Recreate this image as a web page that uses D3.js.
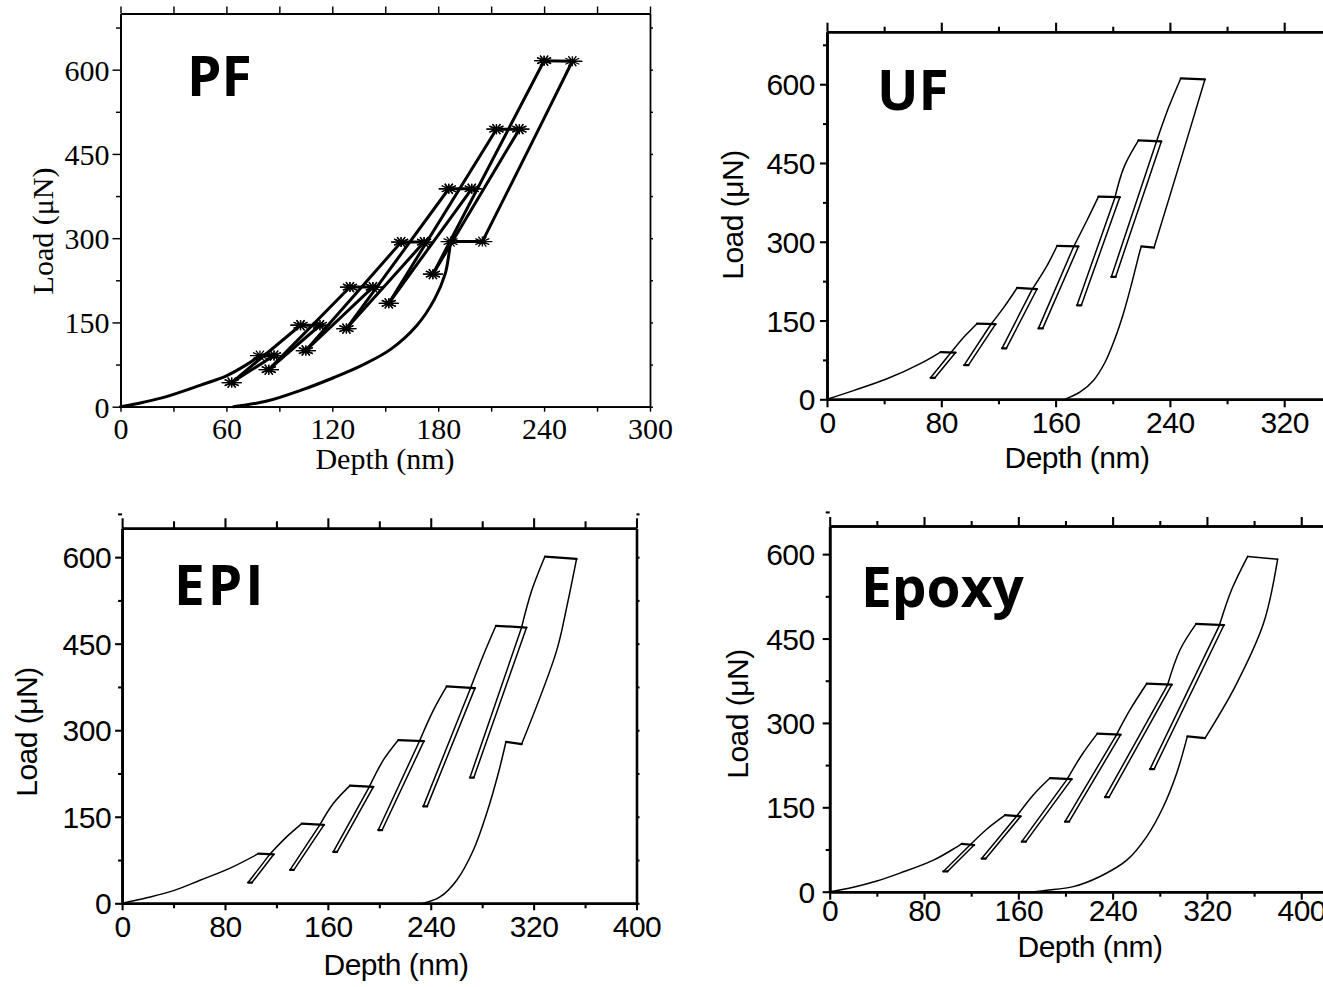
<!DOCTYPE html>
<html>
<head>
<meta charset="utf-8">
<script src="https://cdn.jsdelivr.net/npm/d3@7"></script>
<style>
  body { margin: 0; background: #fff; }
  svg { display: block; background: #fff; }
  .curve { fill: none; stroke: #000; stroke-linejoin: round; stroke-linecap: round; }
  .star { fill: none; stroke: #000; stroke-width: 1.3; }
</style>
</head>
<body>
<svg id="chart" width="1323" height="987"></svg>
<script>
// ---- values: depth (nm), load (uN) ----
var panelNames = ["PF", "UF", "EPI", "Epoxy"];

var loadTicks = [0, 150, 300, 450, 600];
var loadMinor = [75, 225, 375, 525, 675];
var pfDepthTicks = [0, 60, 120, 180, 240, 300];
var pfDepthMinor = [30, 90, 150, 210, 270];
var depthTicks = [0, 80, 160, 240, 320, 400];
var depthMinor = [40, 120, 200, 280, 360, 440];

// every stroke of a curve: loading, holds, partial unloads, reloads, final unload
var pfStrokes = [
  [[0, 0], [13, 8], [26, 18], [45, 38], [60, 55], [71, 74], [79, 91]],
  [[79, 91], [87, 91]],
  [[87, 91], [63, 43]],
  [[63, 43], [102, 145]],
  [[102, 145], [113, 145]],
  [[113, 145], [84, 66]],
  [[84, 66], [130, 213]],
  [[130, 213], [143, 213]],
  [[143, 213], [105, 100]],
  [[105, 100], [159, 293]],
  [[159, 293], [172, 293]],
  [[172, 293], [128, 139]],
  [[128, 139], [186, 388]],
  [[186, 388], [199, 388]],
  [[199, 388], [152, 184]],
  [[152, 184], [213, 494]],
  [[213, 494], [226, 494]],
  [[226, 494], [177, 236]],
  [[177, 236], [240, 616]],
  [[240, 616], [256, 615]],
  [[256, 615], [232, 463], [205, 294]],
  [[205, 294], [187, 294]],
  [[187, 294], [186, 270], [184, 237], [178, 192], [168, 145], [153, 102], [137, 74], [121, 52], [102, 29], [83, 10], [64, 0]]
];

var ufStrokes = [
  [[0, 0], [19, 17], [42, 39], [66, 69], [79.5, 90]],
  [[79.5, 90], [90, 89]],
  [[90, 89], [75.5, 41]],
  [[75.5, 41], [72.5, 41]],
  [[72.5, 41], [86.5, 88]],
  [[86.5, 88], [96, 119], [105, 144]],
  [[105, 144], [118, 143]],
  [[118, 143], [99, 65]],
  [[99, 65], [96, 65]],
  [[96, 65], [114.5, 142]],
  [[114.5, 142], [124, 176], [133, 212]],
  [[133, 212], [147, 210]],
  [[147, 210], [125.5, 97]],
  [[125.5, 97], [122.5, 97]],
  [[122.5, 97], [143.5, 209]],
  [[143.5, 209], [153.5, 252], [161, 292]],
  [[161, 292], [176, 291]],
  [[176, 291], [151, 135]],
  [[151, 135], [148, 135]],
  [[148, 135], [172.5, 290]],
  [[172.5, 290], [182, 341], [190, 386]],
  [[190, 386], [205, 385]],
  [[205, 385], [178, 179]],
  [[178, 179], [175, 179]],
  [[175, 179], [201.5, 384]],
  [[201.5, 384], [208, 443], [218, 493]],
  [[218, 493], [234, 491]],
  [[234, 491], [202, 233]],
  [[202, 233], [199, 233]],
  [[199, 233], [230.5, 490]],
  [[230.5, 490], [239, 555], [247.6, 611]],
  [[247.6, 611], [264.5, 609]],
  [[264.5, 609], [247.4, 454], [228.9, 289]],
  [[228.9, 289], [220, 291]],
  [[220, 291], [218.6, 278], [213.3, 221], [207.4, 163], [201.6, 116], [194.7, 71], [186.5, 36], [177.2, 14], [166.7, 0]]
];

var epiStrokes = [
  [[0, 0], [20, 10], [40, 22], [60.6, 40], [84, 61], [106, 86]],
  [[106, 86], [118, 85]],
  [[118, 85], [101, 36]],
  [[101, 36], [98, 36]],
  [[98, 36], [114.5, 84]],
  [[114.5, 84], [126.7, 112.5], [139.7, 138]],
  [[139.7, 138], [157, 136]],
  [[157, 136], [133.6, 58]],
  [[133.6, 58], [130.6, 58]],
  [[130.6, 58], [153.5, 135]],
  [[153.5, 135], [164.2, 173], [177.2, 204]],
  [[177.2, 204], [195.4, 202]],
  [[195.4, 202], [167.2, 89]],
  [[167.2, 89], [164.2, 89]],
  [[164.2, 89], [192, 201]],
  [[192, 201], [203.1, 248], [214.8, 283]],
  [[214.8, 283], [234.7, 281]],
  [[234.7, 281], [202.2, 127]],
  [[202.2, 127], [199.2, 127]],
  [[199.2, 127], [231, 280]],
  [[231, 280], [242, 334.5], [252.4, 376]],
  [[252.4, 376], [274.4, 373]],
  [[274.4, 373], [237.2, 168]],
  [[237.2, 168], [234.2, 168]],
  [[234.2, 168], [270.6, 371]],
  [[270.6, 371], [280.9, 430], [290.7, 481]],
  [[290.7, 481], [314.5, 478]],
  [[314.5, 478], [273.5, 218]],
  [[273.5, 218], [270.5, 218]],
  [[270.5, 218], [310.5, 477]],
  [[310.5, 477], [318.5, 542], [328.8, 601]],
  [[328.8, 601], [353.4, 597]],
  [[353.4, 597], [345.7, 513], [337.9, 438], [310.7, 276]],
  [[310.7, 276], [298.5, 280]],
  [[298.5, 280], [292.5, 225], [283.5, 156], [273.1, 92], [260.2, 40], [247.2, 11], [234.2, 0]]
];

var epoxyStrokes = [
  [[0, 0], [20, 8], [40, 19], [59.6, 33], [88, 56], [112, 85]],
  [[112, 85], [122.5, 83]],
  [[122.5, 83], [99.9, 36]],
  [[99.9, 36], [96.4, 36]],
  [[96.4, 36], [119, 83]],
  [[119, 83], [133.2, 111], [148.7, 136]],
  [[148.7, 136], [162, 134]],
  [[162, 134], [132.4, 59]],
  [[132.4, 59], [128.9, 59]],
  [[128.9, 59], [158.5, 134]],
  [[158.5, 134], [172.7, 172], [186.9, 202]],
  [[186.9, 202], [205.3, 200]],
  [[205.3, 200], [166.4, 89]],
  [[166.4, 89], [162.9, 89]],
  [[162.9, 89], [201.5, 200]],
  [[201.5, 200], [213.8, 243], [227, 281]],
  [[227, 281], [246.8, 279]],
  [[246.8, 279], [203.1, 124.5]],
  [[203.1, 124.5], [199.6, 124.5]],
  [[199.6, 124.5], [243, 278]],
  [[243, 278], [254.7, 323], [269, 370]],
  [[269, 370], [290.2, 368]],
  [[290.2, 368], [237, 168]],
  [[237, 168], [233.5, 168]],
  [[233.5, 168], [286.5, 367]],
  [[286.5, 367], [297.2, 430], [310.8, 476]],
  [[310.8, 476], [334.5, 474]],
  [[334.5, 474], [275.2, 218]],
  [[275.2, 218], [271.7, 218]],
  [[271.7, 218], [330.5, 473]],
  [[330.5, 473], [341, 537], [354.6, 596]],
  [[354.6, 596], [380, 591]],
  [[380, 591], [368, 477], [344, 365], [318.4, 273]],
  [[318.4, 273], [303.4, 276]],
  [[303.4, 276], [294.4, 211], [283, 151], [268.9, 98], [252, 56], [229.3, 27], [206.7, 9], [184.1, 2.5], [174, 0]]
];

/** One load-depth panel of the figure. */
class LoadDepthPanel {
  /**
   * @param cfg layout of the panel (pixel box, domains, fonts, label spots)
   */
  constructor(cfg) {
    this.cfg = cfg;
    this.x = d3.scaleLinear().domain(cfg.xDomain).range(cfg.xRange);
    this.y = d3.scaleLinear().domain(cfg.yDomain).range(cfg.yRange);
  }

  drawAxes(svg) {
    var c = this.cfg;
    var self = this;
    var g = svg.append("g").attr("class", "axes");

    var style = function(sel) {
      sel.select(".domain").attr("stroke-width", c.axisWidth);
      sel.selectAll(".tick line").attr("stroke-width", c.axisWidth * 0.8);
      sel.selectAll(".tick text")
        .attr("font-family", c.font)
        .attr("font-size", c.fontSize)
        .attr("letter-spacing", c.letterSpacing)
        .attr("fill", "#000");
    };

    // bottom axis, labelled
    g.append("g")
      .attr("transform", "translate(0," + c.yRange[0] + ")")
      .call(d3.axisBottom(self.x).tickValues(c.xTicks).tickFormat(d3.format("d"))
        .tickSize(c.xTickLen[0]).tickSizeOuter(0).tickPadding(c.xPad))
      .call(style);
    g.append("g")
      .attr("transform", "translate(0," + c.yRange[0] + ")")
      .call(d3.axisBottom(self.x).tickValues(c.xMinor).tickFormat("")
        .tickSize(c.xTickLen[1]).tickSizeOuter(0))
      .call(style);

    // top axis, ticks only
    [[c.xTicks, c.topTickLen[0]], [c.xMinor, c.topTickLen[1]]].forEach(function(t) {
      g.append("g")
        .attr("transform", "translate(0," + c.yRange[1] + ")")
        .call(d3.axisTop(self.x).tickValues(t[0]).tickFormat("").tickSize(t[1]).tickSizeOuter(0))
        .call(style);
    });

    // left axis, labelled
    g.append("g")
      .attr("transform", "translate(" + c.xRange[0] + ",0)")
      .call(d3.axisLeft(self.y).tickValues(loadTicks).tickFormat(d3.format("d"))
        .tickSize(c.yTickLen[0]).tickSizeOuter(0).tickPadding(c.yPad))
      .call(style)
      .selectAll(".tick text").attr("dy", "0.35em");
    g.append("g")
      .attr("transform", "translate(" + c.xRange[0] + ",0)")
      .call(d3.axisLeft(self.y).tickValues(loadMinor).tickFormat("")
        .tickSize(c.yTickLen[1]).tickSizeOuter(0))
      .call(style);

    // right axis, short outward marks
    g.append("g")
      .attr("transform", "translate(" + c.xRange[1] + ",0)")
      .call(d3.axisRight(self.y).tickValues(loadTicks.concat(loadMinor)).tickFormat("")
        .tickSize(c.rightTickLen).tickSizeOuter(0))
      .call(style);
  }

  drawCurves(svg) {
    var c = this.cfg;
    var self = this;
    var line = d3.line()
      .x(function(d) { return self.x(d[0]); })
      .y(function(d) { return self.y(d[1]); })
      .curve(d3.curveCatmullRom.alpha(0.5));

    // holds (flat two-point strokes) come out a little heavier in the scan
    var isHold = function(s) {
      return s.length === 2 && Math.abs(s[0][1] - s[1][1]) <= 4;
    };

    svg.append("g").attr("class", "strokes")
      .selectAll("path").data(c.strokes).enter()
      .append("path")
      .attr("class", "curve")
      .attr("stroke-width", function(s) { return isHold(s) ? c.lineWidth * c.holdBoost : c.lineWidth; })
      .attr("d", line);

    if (c.stars) {
      // PF shows asterisk-like noise at every hold and turning point
      var pts = [];
      c.strokes.forEach(function(s) {
        if (s.length === 2) { pts.push(s[0], s[1]); }
      });
      var star = "M-10,0L10,0M-7,-3L7,3M-7,3L7,-3M-4,-5L4,5M4,-5L-4,5M0,-5L0,5";
      svg.append("g").attr("class", "stars")
        .selectAll("path").data(pts).enter()
        .append("path")
        .attr("class", "star")
        .attr("transform", function(d) { return "translate(" + self.x(d[0]) + "," + self.y(d[1]) + ")"; })
        .attr("d", star);
    }
  }

  drawLabels(svg) {
    var c = this.cfg;
    var g = svg.append("g").attr("class", "labels");

    g.append("text")
      .attr("x", c.titleX[0]).attr("y", c.titleX[1])
      .attr("text-anchor", "middle")
      .attr("font-family", c.font).attr("font-size", c.fontSize)
      .attr("letter-spacing", c.letterSpacing)
      .text("Depth (nm)");

    g.append("text")
      .attr("transform", "translate(" + c.titleY[0] + "," + c.titleY[1] + ") rotate(-90)")
      .attr("text-anchor", "middle")
      .attr("font-family", c.font).attr("font-size", c.fontSize)
      .attr("letter-spacing", c.letterSpacing)
      .text("Load (\u03bcN)");

    g.append("text")
      .attr("x", c.namePos[0]).attr("y", c.namePos[1])
      .attr("font-family", "'Open Sans', 'Noto Sans', sans-serif")
      .attr("font-weight", "bold")
      .attr("font-size", 55)
      .attr("letter-spacing", c.nameSpacing)
      .text(c.name);
  }

  draw(svg) {
    this.drawAxes(svg);
    this.drawCurves(svg);
    this.drawLabels(svg);
  }
}

var serif = "'Liberation Serif', 'Times New Roman', serif";
var sans = "'Liberation Sans', Arial, sans-serif";

var panels = [
  {
    name: panelNames[0], strokes: pfStrokes, stars: true, holdBoost: 1, nameSpacing: 0,
    xDomain: [0, 300], xRange: [120.5, 650], yDomain: [0, 700], yRange: [406.7, 13.5],
    xTicks: pfDepthTicks, xMinor: pfDepthMinor,
    font: serif, fontSize: 30, letterSpacing: 0, axisWidth: 1.8, lineWidth: 3,
    xTickLen: [5, 5], topTickLen: [7, 7], yTickLen: [8, 4.5], rightTickLen: 3,
    xPad: 6, yPad: 3, titleX: [385, 469], titleY: [53, 231], namePos: [187, 96]
  },
  {
    name: panelNames[1], strokes: ufStrokes, stars: false, holdBoost: 1.5, nameSpacing: 0,
    xDomain: [0, 400], xRange: [827, 1398.5], yDomain: [0, 700], yRange: [399.3, 31.7],
    xTicks: depthTicks.slice(0, 5), xMinor: depthMinor.slice(0, 5),
    font: sans, fontSize: 30, letterSpacing: -0.5, axisWidth: 2.6, lineWidth: 1.5,
    xTickLen: [8, 5], topTickLen: [9, 5], yTickLen: [7, 4], rightTickLen: 3,
    xPad: 4, yPad: 5, titleX: [1077, 468], titleY: [743, 215], namePos: [877, 110]
  },
  {
    name: panelNames[2], strokes: epiStrokes, stars: false, holdBoost: 1.5, nameSpacing: 3,
    xDomain: [0, 400], xRange: [122.1, 636.5], yDomain: [0, 650], yRange: [903.3, 528.3],
    xTicks: depthTicks, xMinor: depthMinor.slice(0, 5),
    font: sans, fontSize: 30, letterSpacing: -0.5, axisWidth: 2.6, lineWidth: 1.5,
    xTickLen: [7, 5], topTickLen: [10, 7], yTickLen: [7, 4], rightTickLen: 3,
    xPad: 5, yPad: 4, titleX: [396, 975], titleY: [37, 732], namePos: [174, 605]
  },
  {
    name: panelNames[3], strokes: epoxyStrokes, stars: false, holdBoost: 1.5, nameSpacing: 0,
    xDomain: [0, 440], xRange: [829.7, 1348.4], yDomain: [0, 650], yRange: [891.7, 526],
    xTicks: depthTicks, xMinor: depthMinor,
    font: sans, fontSize: 30, letterSpacing: -0.5, axisWidth: 2.6, lineWidth: 1.5,
    xTickLen: [8, 5], topTickLen: [9, 5], yTickLen: [7, 4], rightTickLen: 3,
    xPad: 0, yPad: 8, titleX: [1090, 957], titleY: [748, 714], namePos: [861, 607]
  }
];

var svg = d3.select("#chart");
panels.forEach(function(cfg) {
  new LoadDepthPanel(cfg).draw(svg);
});
</script>
</body>
</html>
